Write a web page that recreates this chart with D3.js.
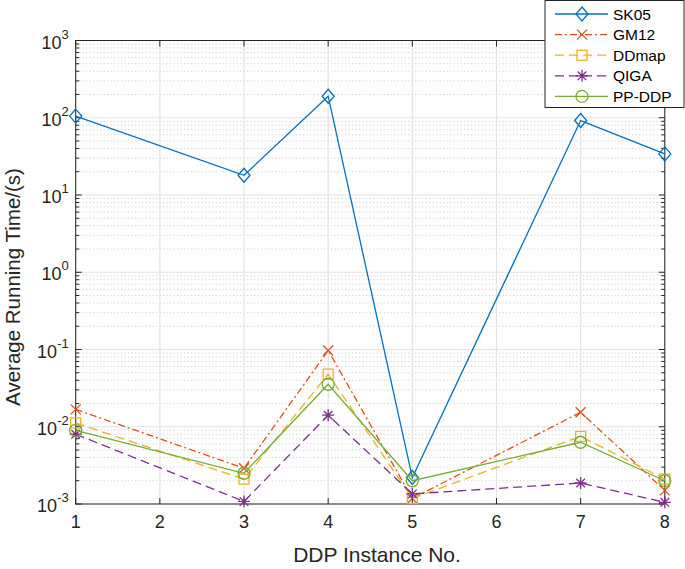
<!DOCTYPE html>
<html><head><meta charset="utf-8">
<script src="https://cdn.jsdelivr.net/npm/d3@7"></script>
<style>body{margin:0;background:#fff}svg{font-family:"Liberation Sans",Arial,sans-serif}</style>
</head><body>
<svg id="c" width="685" height="569"></svg>
<script>
const xs = [1, 3, 4, 5, 7, 8];
const xTicks = [1, 2, 3, 4, 5, 6, 7, 8];
const yExps = [-3, -2, -1, 0, 1, 2, 3];
const seriesNames = ["SK05", "GM12", "DDmap", "QIGA", "PP-DDP"];
const sk05  = [105, 18, 190, 0.0022, 92, 34];
const gm12  = [0.0168, 0.0029, 0.097, 0.00118, 0.0154, 0.0015];
const ddmap = [0.0112, 0.0021, 0.048, 0.00118, 0.0075, 0.0021];
const qiga  = [0.0080, 0.00108, 0.0141, 0.00135, 0.00187, 0.00105];
const ppddp = [0.0090, 0.0025, 0.0355, 0.0020, 0.0063, 0.0020];

const styles = [
  {color:"#0072BD", dash:null, marker:"diamond"},
  {color:"#D95319", dash:"7,3,2,3", marker:"x"},
  {color:"#EDB120", dash:"9,5", marker:"square"},
  {color:"#7E2F8E", dash:"9,5", marker:"asterisk"},
  {color:"#77AC30", dash:null, marker:"circle"}
];
const allData = [sk05, gm12, ddmap, qiga, ppddp];

const svg = d3.select("#c");
const L = 75.7, R = 664.8, T = 40.5, B = 504;
const x = d3.scaleLinear().domain([1, 8]).range([L, R]);
const y = d3.scaleLog().domain([1e-3, 1e3]).range([B, T]);

const g = svg.append("g");
const minors = [];
for (let e = -3; e < 3; e++) for (let k = 2; k <= 9; k++) minors.push(k * Math.pow(10, e));
g.selectAll(".mg").data(minors).enter().append("line")
  .attr("x1", L).attr("x2", R).attr("y1", d => y(d)).attr("y2", d => y(d))
  .attr("stroke", "#c8c8c8").attr("stroke-width", 1).attr("stroke-dasharray", "1,2.5");
g.selectAll(".Mg").data(yExps).enter().append("line")
  .attr("x1", L).attr("x2", R).attr("y1", d => y(Math.pow(10, d))).attr("y2", d => y(Math.pow(10, d)))
  .attr("stroke", "#e3e3e3").attr("stroke-width", 1.2);
g.selectAll(".vg").data(xTicks).enter().append("line")
  .attr("x1", d => x(d)).attr("x2", d => x(d)).attr("y1", T).attr("y2", B)
  .attr("stroke", "#e3e3e3").attr("stroke-width", 1.2);

svg.append("rect").attr("x", L).attr("y", T).attr("width", R - L).attr("height", B - T)
  .attr("fill", "none").attr("stroke", "#262626").attr("stroke-width", 1);

const tk = svg.append("g").attr("stroke", "#262626").attr("stroke-width", 1);
yExps.forEach(e => {
  const yy = y(Math.pow(10, e));
  tk.append("line").attr("x1", L).attr("x2", L + 6).attr("y1", yy).attr("y2", yy);
  tk.append("line").attr("x1", R).attr("x2", R - 6).attr("y1", yy).attr("y2", yy);
});
minors.forEach(m => {
  const yy = y(m);
  tk.append("line").attr("x1", L).attr("x2", L + 3.5).attr("y1", yy).attr("y2", yy);
  tk.append("line").attr("x1", R).attr("x2", R - 3.5).attr("y1", yy).attr("y2", yy);
});
xTicks.forEach(t => {
  tk.append("line").attr("x1", x(t)).attr("x2", x(t)).attr("y1", B).attr("y2", B - 6);
  tk.append("line").attr("x1", x(t)).attr("x2", x(t)).attr("y1", T).attr("y2", T + 6);
});

svg.selectAll(".xl").data(xTicks).enter().append("text")
  .attr("x", d => x(d)).attr("y", B + 24).attr("text-anchor", "middle")
  .attr("font-size", 18).attr("fill", "#262626").text(d => d);
yExps.forEach(e => {
  const yy = y(Math.pow(10, e));
  const t = svg.append("text").attr("x", L - 7).attr("y", yy + 8).attr("text-anchor", "end")
    .attr("font-size", 18).attr("fill", "#262626");
  t.append("tspan").text("10");
  t.append("tspan").attr("dy", -10).attr("font-size", 13).text(e);
});

svg.append("text").attr("x", 377).attr("y", 562).attr("text-anchor", "middle")
  .attr("font-size", 21).attr("fill", "#262626").text("DDP Instance No.");
svg.append("text").attr("transform", "translate(20,287) rotate(-90)").attr("text-anchor", "middle")
  .attr("font-size", 20.5).attr("fill", "#262626").text("Average Running Time/(s)");

function drawMarker(sel, type, color) {
  if (type === "diamond") sel.append("path").attr("d", "M0,-7L6,0L0,7L-6,0Z").attr("fill", "none").attr("stroke", color).attr("stroke-width", 1.3);
  else if (type === "x") sel.append("path").attr("d", "M-5,-5L5,5M-5,5L5,-5").attr("stroke", color).attr("stroke-width", 1.3);
  else if (type === "square") sel.append("rect").attr("x", -5).attr("y", -5).attr("width", 10).attr("height", 10).attr("fill", "none").attr("stroke", color).attr("stroke-width", 1.3);
  else if (type === "asterisk") sel.append("path").attr("d", "M0,-6V6M-6,0H6M-4.3,-4.3L4.3,4.3M-4.3,4.3L4.3,-4.3").attr("stroke", color).attr("stroke-width", 1.3);
  else if (type === "circle") sel.append("circle").attr("r", 6).attr("fill", "none").attr("stroke", color).attr("stroke-width", 1.3);
}

const line = d3.line().x((d, i) => x(xs[i])).y(d => y(d));
allData.forEach((data, si) => {
  const st = styles[si];
  svg.append("path").datum(data).attr("d", line).attr("fill", "none")
    .attr("stroke", st.color).attr("stroke-width", 1.3)
    .attr("stroke-dasharray", st.dash);
  data.forEach((v, i) => {
    const m = svg.append("g").attr("transform", `translate(${x(xs[i])},${y(v)})`);
    drawMarker(m, st.marker, st.color);
  });
});

const lg = svg.append("g");
lg.append("rect").attr("x", 545).attr("y", 0.5).attr("width", 139).attr("height", 107)
  .attr("fill", "#fff").attr("stroke", "#262626").attr("stroke-width", 1);
seriesNames.forEach((n, i) => {
  const yy = 14 + i * 20.6;
  const st = styles[i];
  lg.append("line").attr("x1", 555).attr("x2", 608).attr("y1", yy).attr("y2", yy)
    .attr("stroke", st.color).attr("stroke-width", 1.3).attr("stroke-dasharray", st.dash);
  const m = lg.append("g").attr("transform", `translate(582,${yy})`);
  drawMarker(m, st.marker, st.color);
  lg.append("text").attr("x", 613).attr("y", yy + 5.5).attr("font-size", 15.5).attr("fill", "#000").text(n);
});
</script>
</body></html>
